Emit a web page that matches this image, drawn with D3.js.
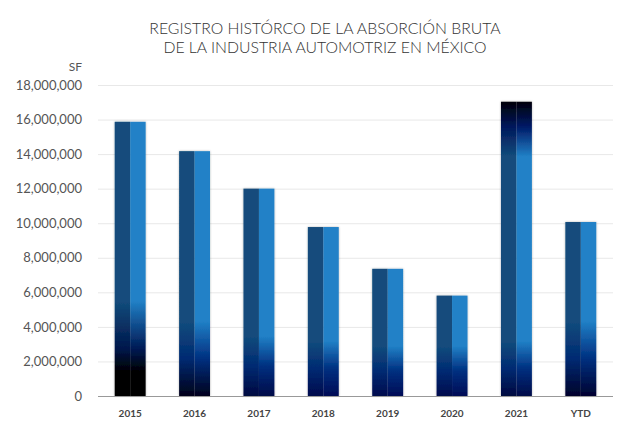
<!DOCTYPE html>
<html>
<head>
<meta charset="utf-8">
<script src="https://cdn.jsdelivr.net/npm/d3@7"></script>
<style>
  body { margin: 0; background: #fff; }
  text { font-family: Lato, "Open Sans", sans-serif; }
</style>
</head>
<body>
<div id="chart"></div>
<script>

var years = ['2015', '2016', '2017', '2018', '2019', '2020', '2021', 'YTD'];
var absorcion = [15870000, 14170000, 12000000, 9780000, 7360000, 5810000, 17030000, 10070000];
var yTicks = [0, 2000000, 4000000, 6000000, 8000000, 10000000, 12000000, 14000000, 16000000, 18000000];

// how dark each bar gets at the bottom / top (px of fade, darkest colour)
var bottomFade = [95, 75, 60, 55, 50, 50, 55, 75];
var bottomColor = ['#000000', '#00011c', '#000a48', '#000c56', '#000c56', '#000c56', '#000a48', '#000230'];
var topFade = [0, 0, 0, 0, 0, 0, 55, 0];

var width = 639, height = 438;
var svg = d3.select('#chart').append('svg').attr('width', width).attr('height', height);

var x = d3.scaleBand().domain(years).range([98, 613]).paddingInner(0.52).paddingOuter(0.26);
var y = d3.scaleLinear().domain([0, 18000000]).range([396, 85]);

var defs = svg.append('defs');
var filter = defs.append('filter').attr('id', 'shadow').attr('x', '-20%').attr('y', '-5%').attr('width', '140%').attr('height', '110%');
filter.append('feGaussianBlur').attr('in', 'SourceAlpha').attr('stdDeviation', 1.2).attr('result', 'b');
filter.append('feFlood').attr('flood-color', '#000').attr('flood-opacity', 0.3);
filter.append('feComposite').attr('in2', 'b').attr('operator', 'in').attr('result', 's');
var merge = filter.append('feMerge');
merge.append('feMergeNode').attr('in', 's');
merge.append('feMergeNode').attr('in', 'SourceGraphic');

// title
svg.append('text').attr('x', 325).attr('y', 34).attr('text-anchor', 'middle')
  .attr('font-size', '15.8px').attr('font-weight', 300).attr('fill', '#333').text('REGISTRO HISTÓRCO DE LA ABSORCIÓN BRUTA');
svg.append('text').attr('x', 325).attr('y', 53).attr('text-anchor', 'middle')
  .attr('font-size', '15.8px').attr('font-weight', 300).attr('fill', '#333').text('DE LA INDUSTRIA AUTOMOTRIZ EN MÉXICO');

svg.append('text').attr('x', 82).attr('y', 71).attr('text-anchor', 'end')
  .attr('font-size', '12px').attr('fill', '#555').text('SF');

// grid
svg.append('g').selectAll('line').data(yTicks.slice(1)).enter().append('line')
  .attr('x1', 98).attr('x2', 613)
  .attr('y1', function(d) { return y(d) + 0.5; }).attr('y2', function(d) { return y(d) + 0.5; })
  .attr('stroke', '#e8e8e8').attr('stroke-width', 1);

var yAxis = svg.append('g').attr('transform', 'translate(82,0)')
  .call(d3.axisLeft(y).tickValues(yTicks).tickSize(0).tickPadding(0).tickFormat(d3.format(',')));
yAxis.select('.domain').remove();
yAxis.selectAll('text').attr('font-size', '13px').attr('fill', '#555').attr('font-family', 'Lato, sans-serif');

function makeGrad(id, base, i, top, bottom) {
  var g = defs.append('linearGradient').attr('id', id).attr('gradientUnits', 'userSpaceOnUse')
    .attr('x1', 0).attr('x2', 0).attr('y1', top).attr('y2', bottom);
  var h = bottom - top;
  var f = bottomFade[i];
  if (topFade[i] > 0) {
    g.append('stop').attr('offset', 0).attr('stop-color', '#000008');
    g.append('stop').attr('offset', topFade[i] * 0.45 / h).attr('stop-color', '#001a66');
    g.append('stop').attr('offset', topFade[i] / h).attr('stop-color', base);
  } else {
    g.append('stop').attr('offset', 0).attr('stop-color', base);
  }
  g.append('stop').attr('offset', 1 - f / h).attr('stop-color', base);
  g.append('stop').attr('offset', 1 - f * 0.5 / h).attr('stop-color', bottomColor[i] === '#000000' ? '#001a55' : '#003080');
  if (bottomColor[i] === '#000000') {
    g.append('stop').attr('offset', 1 - f * 0.25 / h).attr('stop-color', '#000000');
  }
  g.append('stop').attr('offset', 1).attr('stop-color', bottomColor[i]);
}

var bars = svg.append('g').selectAll('g').data(years).enter().append('g')
  .attr('filter', 'url(#shadow)')
  .each(function(d, i) {
    var top = y(absorcion[i]), bottom = y(0);
    makeGrad('gl' + i, '#16558a', i, top, bottom);
    makeGrad('gr' + i, '#2181c7', i, top, bottom);
    var g = d3.select(this);
    var bw = x.bandwidth();
    g.append('rect').attr('x', x(d)).attr('y', top).attr('width', bw / 2).attr('height', bottom - top)
      .attr('fill', 'url(#gl' + i + ')');
    g.append('rect').attr('x', x(d) + bw / 2).attr('y', top).attr('width', bw / 2).attr('height', bottom - top)
      .attr('fill', 'url(#gr' + i + ')');
  });

// darker overlay on left half to keep the two-tone look at the fades
bars.each(function(d, i) {
  var top = y(absorcion[i]);
  d3.select(this).append('rect').attr('x', x(d)).attr('y', top).attr('width', x.bandwidth() / 2)
    .attr('height', y(0) - top).attr('fill', '#000').attr('opacity', 0.1);
});

svg.append('line').attr('x1', 98).attr('x2', 613).attr('y1', 396.5).attr('y2', 396.5)
  .attr('stroke', '#999').attr('stroke-width', 1);

var xAxis = svg.append('g').attr('transform', 'translate(0,396)')
  .call(d3.axisBottom(x).tickSize(0).tickPadding(14));
xAxis.select('.domain').remove();
xAxis.selectAll('text').attr('font-size', '10px').attr('font-weight', 'bold').attr('fill', '#444')
  .attr('font-family', 'Lato, sans-serif');

</script>
</body>
</html>
